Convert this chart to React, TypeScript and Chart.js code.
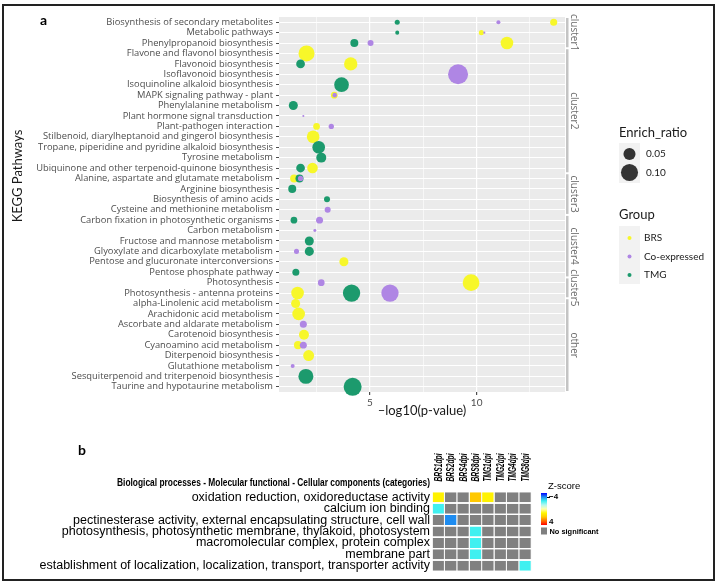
import React, { useEffect, useRef } from 'react';
import { Chart, registerables } from 'chart.js';

Chart.register(...registerables);

// ---------------- Panel a data ----------------
const PATHWAYS = [
  'Biosynthesis of secondary metabolites',
  'Metabolic pathways',
  'Phenylpropanoid biosynthesis',
  'Flavone and flavonol biosynthesis',
  'Flavonoid biosynthesis',
  'Isoflavonoid biosynthesis',
  'Isoquinoline alkaloid biosynthesis',
  'MAPK signaling pathway - plant',
  'Phenylalanine metabolism',
  'Plant hormone signal transduction',
  'Plant-pathogen interaction',
  'Stilbenoid, diarylheptanoid and gingerol biosynthesis',
  'Tropane, piperidine and pyridine alkaloid biosynthesis',
  'Tyrosine metabolism',
  'Ubiquinone and other terpenoid-quinone biosynthesis',
  'Alanine, aspartate and glutamate metabolism',
  'Arginine biosynthesis',
  'Biosynthesis of amino acids',
  'Cysteine and methionine metabolism',
  'Carbon fixation in photosynthetic organisms',
  'Carbon metabolism',
  'Fructose and mannose metabolism',
  'Glyoxylate and dicarboxylate metabolism',
  'Pentose and glucuronate interconversions',
  'Pentose phosphate pathway',
  'Photosynthesis',
  'Photosynthesis - antenna proteins',
  'alpha-Linolenic acid metabolism',
  'Arachidonic acid metabolism',
  'Ascorbate and aldarate metabolism',
  'Carotenoid biosynthesis',
  'Cyanoamino acid metabolism',
  'Diterpenoid biosynthesis',
  'Glutathione metabolism',
  'Sesquiterpenoid and triterpenoid biosynthesis',
  'Taurine and hypotaurine metabolism',
];

const CLUSTERS = ['cluster1', 'cluster2', 'cluster3', 'cluster4', 'cluster5', 'other'];
const CLUSTER_SIZES = [3, 12, 4, 6, 2, 9];

// [pathway, -log10(p-value), Enrich_ratio]
const BRS_POINTS: [string, number, number][] = [
  ['Biosynthesis of secondary metabolites', 13.61, 0.017],
  ['Metabolic pathways', 10.22, 0.0086],
  ['Phenylpropanoid biosynthesis', 11.42, 0.055],
  ['Flavone and flavonol biosynthesis', 2.03, 0.088],
  ['Flavonoid biosynthesis', 4.1, 0.061],
  ['MAPK signaling pathway - plant', 3.33, 0.0154],
  ['Plant-pathogen interaction', 2.5, 0.0154],
  ['Stilbenoid, diarylheptanoid and gingerol biosynthesis', 2.34, 0.055],
  ['Ubiquinone and other terpenoid-quinone biosynthesis', 2.31, 0.039],
  ['Alanine, aspartate and glutamate metabolism', 1.45, 0.022],
  ['Pentose and glucuronate interconversions', 3.78, 0.028],
  ['Photosynthesis', 9.74, 0.096],
  ['Photosynthesis - antenna proteins', 1.61, 0.055],
  ['alpha-Linolenic acid metabolism', 1.52, 0.028],
  ['Arachidonic acid metabolism', 1.66, 0.055],
  ['Carotenoid biosynthesis', 1.91, 0.034],
  ['Cyanoamino acid metabolism', 1.63, 0.022],
  ['Diterpenoid biosynthesis', 2.13, 0.041],
];

const COEXP_POINTS: [string, number, number][] = [
  ['Biosynthesis of secondary metabolites', 11.02, 0.0055],
  ['Metabolic pathways', 10.36, 0.0015],
  ['Phenylpropanoid biosynthesis', 5.03, 0.0123],
  ['Isoflavonoid biosynthesis', 9.13, 0.137],
  ['MAPK signaling pathway - plant', 3.35, 0.007],
  ['Plant hormone signal transduction', 1.88, 0.0015],
  ['Plant-pathogen interaction', 3.19, 0.0096],
  ['Alanine, aspartate and glutamate metabolism', 1.75, 0.0096],
  ['Cysteine and methionine metabolism', 3.02, 0.0123],
  ['Carbon fixation in photosynthetic organisms', 2.64, 0.0168],
  ['Carbon metabolism', 2.42, 0.003],
  ['Glyoxylate and dicarboxylate metabolism', 1.56, 0.0086],
  ['Photosynthesis', 2.72, 0.0154],
  ['Photosynthesis - antenna proteins', 5.94, 0.103],
  ['Ascorbate and aldarate metabolism', 1.88, 0.0168],
  ['Cyanoamino acid metabolism', 1.88, 0.0168],
  ['Glutathione metabolism', 1.38, 0.0055],
];

const TMG_POINTS: [string, number, number][] = [
  ['Biosynthesis of secondary metabolites', 6.28, 0.0086],
  ['Metabolic pathways', 6.28, 0.0055],
  ['Phenylpropanoid biosynthesis', 4.27, 0.022],
  ['Flavonoid biosynthesis', 1.75, 0.026],
  ['Isoquinoline alkaloid biosynthesis', 3.67, 0.074],
  ['Phenylalanine metabolism', 1.41, 0.028],
  ['Tropane, piperidine and pyridine alkaloid biosynthesis', 2.6, 0.055],
  ['Tyrosine metabolism', 2.72, 0.034],
  ['Ubiquinone and other terpenoid-quinone biosynthesis', 1.75, 0.026],
  ['Alanine, aspartate and glutamate metabolism', 1.7, 0.022],
  ['Arginine biosynthesis', 1.36, 0.022],
  ['Biosynthesis of amino acids', 2.99, 0.0123],
  ['Carbon fixation in photosynthetic organisms', 1.44, 0.0154],
  ['Fructose and mannose metabolism', 2.16, 0.028],
  ['Glyoxylate and dicarboxylate metabolism', 2.16, 0.028],
  ['Pentose phosphate pathway', 1.53, 0.0168],
  ['Photosynthesis - antenna proteins', 4.14, 0.103],
  ['Sesquiterpenoid and triterpenoid biosynthesis', 2.0, 0.077],
  ['Taurine and hypotaurine metabolism', 4.19, 0.111],
];

const GROUPS = ['BRS', 'Co-expressed', 'TMG'];
const GROUP_POINTS = [BRS_POINTS, COEXP_POINTS, TMG_POINTS];
const SIZE_BREAKS = [0.05, 0.1];
const X_TICK_LABELS = [5, 10];

// ---------------- Panel b data ----------------
const TIMEPOINTS = ['BRS1dpi', 'BRS2dpi', 'BRS4dpi', 'BRS8dpi', 'TMG1dpi', 'TMG2dpi', 'TMG4dpi', 'TMG8dpi'];
const GO_TERMS = [
  'oxidation reduction, oxidoreductase activity',
  'calcium ion binding',
  'pectinesterase activity, external encapsulating structure, cell wall',
  'photosynthesis, photosynthetic membrane, thylakoid, photosystem',
  'macromolecular complex, protein complex',
  'membrane part',
  'establishment of localization, localization, transport, transporter activity',
];
const Z_BRS1 = [1.1, -2, null, null, null, null, null];
const Z_BRS2 = [null, null, -3, null, null, null, null];
const Z_BRS4 = [null, null, null, null, null, null, null];
const Z_BRS8 = [2, null, null, -2, -2, -2, null];
const Z_TMG1 = [1.1, null, null, null, null, null, null];
const Z_TMG2 = [null, null, null, null, null, null, null];
const Z_TMG4 = [null, null, null, null, null, null, null];
const Z_TMG8 = [null, null, null, null, null, null, -2];
const Z_COLUMNS: (number | null)[][] = [Z_BRS1, Z_BRS2, Z_BRS4, Z_BRS8, Z_TMG1, Z_TMG2, Z_TMG4, Z_TMG8];
const Z_LIMITS = [-4, 4];

// ---------------- styles ----------------
const GROUP_COLORS = ['#F7F72A', '#AF86E4', '#1C9A6D'];
const GROUP_ORDER = [2, 0, 1];
const Z_STOP_VALUES = [-4, -3, -2, -1, 0, 1, 2, 3, 4];
const Z_STOP_COLORS = ['#0000FF', '#1E8CF0', '#40F0F0', '#B4F8F0', '#FFFFB0', '#FFF700', '#FFC800', '#FF6A00', '#FF0000'];
const NS_GRAY = '#808080';
const SANS = 'Lato';
const LABEL_SANS = '"Open Sans"';
const ARIAL = '"Liberation Sans", Arial, sans-serif';

const sizeR = (ratio: number) => 27 * Math.sqrt(ratio);

function hexToRgb(h: string) {
  const n = parseInt(h.slice(1), 16);
  return [(n >> 16) & 255, (n >> 8) & 255, n & 255];
}
function zColor(z: number) {
  const v = Math.max(Z_LIMITS[0], Math.min(Z_LIMITS[1], z));
  for (let i = 0; i < Z_STOP_VALUES.length - 1; i++) {
    if (v <= Z_STOP_VALUES[i + 1]) {
      const t = (v - Z_STOP_VALUES[i]) / (Z_STOP_VALUES[i + 1] - Z_STOP_VALUES[i]);
      const a = hexToRgb(Z_STOP_COLORS[i]);
      const b = hexToRgb(Z_STOP_COLORS[i + 1]);
      const c = a.map((x, k) => Math.round(x + (b[k] - x) * t));
      return `rgb(${c[0]},${c[1]},${c[2]})`;
    }
  }
  return Z_STOP_COLORS[Z_STOP_COLORS.length - 1];
}

function fitSize(text: string, family: string, weight: string, target: number) {
  const c = document.createElement('canvas').getContext('2d')!;
  c.font = `${weight} 100px ${family}`;
  return (100 * target) / c.measureText(text).width;
}

function drawFit(ctx: CanvasRenderingContext2D, text: string, x: number, y: number, font: string, targetW: number, align: CanvasTextAlign, rot = 0) {
  ctx.save();
  ctx.font = font;
  const w = ctx.measureText(text).width;
  ctx.translate(x, y);
  if (rot) ctx.rotate(rot);
  ctx.scale(targetW / w, 1);
  ctx.textAlign = align;
  ctx.textBaseline = 'middle';
  ctx.fillText(text, 0, 0);
  ctx.restore();
}

export default function App() {
  const refA = useRef<HTMLCanvasElement>(null);
  const refB = useRef<HTMLCanvasElement>(null);

  useEffect(() => {
    document.body.style.margin = '0';
    const ySize = fitSize('Ubiquinone and other terpenoid-quinone biosynthesis', LABEL_SANS, 'normal', 237);
    const goSize = fitSize('establishment of localization, localization, transport, transporter activity', ARIAL, 'normal', 391);

    const panelA = {
      id: 'panelA',
      beforeDraw(chart: any) {
        const { ctx, chartArea: a } = chart;
        ctx.save();
        ctx.fillStyle = '#ffffff';
        ctx.fillRect(0, 0, chart.width, chart.height);
        ctx.fillStyle = '#EBEBEB';
        ctx.fillRect(a.left, a.top, a.right - a.left, a.bottom - a.top);
        ctx.restore();
      },
      afterDraw(chart: any) {
        const { ctx, chartArea: a } = chart;
        const ys = chart.scales.y;
        const pitch = Math.abs(ys.getPixelForValue(1) - ys.getPixelForValue(0));
        ctx.save();
        // facet strips
        let start = 0;
        CLUSTERS.forEach((name, k) => {
          const end = start + CLUSTER_SIZES[k] - 1;
          const top = ys.getPixelForValue(start) - pitch / 2 + 1;
          const bot = ys.getPixelForValue(end) + pitch / 2 - 1;
          ctx.fillStyle = '#C4C4C4';
          ctx.fillRect(a.right + 1, top, 2.5, bot - top);
          ctx.save();
          ctx.translate(a.right + 8.5, (top + bot) / 2);
          ctx.rotate(Math.PI / 2);
          ctx.fillStyle = '#6b6b6b';
          ctx.font = `10px ${LABEL_SANS}`;
          ctx.textAlign = 'center';
          ctx.textBaseline = 'middle';
          ctx.fillText(name, 0, 0);
          ctx.restore();
          start = end + 1;
        });

        // axis titles
        ctx.fillStyle = '#1a1a1a';
        ctx.font = `13px ${SANS}`;
        ctx.textAlign = 'center';
        ctx.textBaseline = 'middle';
        ctx.fillText('\u2013log10(p-value)', (a.left + a.right) / 2, 411);
        ctx.save();
        ctx.translate(18, 176);
        ctx.rotate(-Math.PI / 2);
        ctx.fillText('KEGG Pathways', 0, 0);
        ctx.restore();

        // legend: Enrich_ratio
        ctx.textAlign = 'left';
        ctx.font = `13px ${SANS}`;
        ctx.fillText('Enrich_ratio', 619, 133);
        ctx.fillStyle = '#F2F2F2';
        ctx.fillRect(619, 143, 21, 40);
        const sizeY = [154, 172.5];
        SIZE_BREAKS.forEach((v, i) => {
          ctx.fillStyle = '#333333';
          ctx.beginPath();
          ctx.arc(629.5, sizeY[i], sizeR(v), 0, Math.PI * 2);
          ctx.fill();
          ctx.fillStyle = '#1a1a1a';
          ctx.font = `10px ${SANS}`;
          ctx.fillText(v.toFixed(2), 646, sizeY[i]);
        });

        // legend: Group
        ctx.font = `13px ${SANS}`;
        ctx.fillStyle = '#1a1a1a';
        ctx.fillText('Group', 619, 215);
        ctx.fillStyle = '#F2F2F2';
        ctx.fillRect(619, 226, 21, 58);
        GROUPS.forEach((g, i) => {
          const y = 238 + i * 18.5;
          ctx.fillStyle = GROUP_COLORS[i];
          ctx.beginPath();
          ctx.arc(629.5, y, 2, 0, Math.PI * 2);
          ctx.fill();
          ctx.fillStyle = '#1a1a1a';
          ctx.font = `10px ${SANS}`;
          ctx.fillText(g, 644, y);
        });

        // panel letters
        ctx.font = `bold 14px ${SANS}`;
        ctx.fillStyle = '#000';
        ctx.fillText('a', 40, 20);
        ctx.fillText('b', 78, 450);

        // frame
        ctx.strokeStyle = '#222';
        ctx.lineWidth = 2;
        ctx.strokeRect(3, 5, 711, 575);
        ctx.restore();
      },
    };

    const chartA = new Chart(refA.current!, {
      type: 'bubble',
      data: {
        datasets: GROUPS.map((g, gi) => ({
          label: g,
          data: GROUP_POINTS[gi].map(([p, x, ratio]) => ({ x, y: p as any, r: sizeR(ratio) })),
          backgroundColor: GROUP_COLORS[gi],
          borderWidth: 0,
          order: GROUP_ORDER[gi],
        })),
      },
      options: {
        responsive: false,
        animation: false,
        layout: { padding: { top: 17, right: 153, left: 0, bottom: 0 } },
        plugins: { legend: { display: false }, tooltip: { enabled: false } },
        scales: {
          x: {
            type: 'linear',
            min: 0.74,
            max: 14.14,
            afterFit: (s: any) => { s.height = 194; },
            ticks: {
              stepSize: 2.5,
              includeBounds: false,
              autoSkip: false,
              maxRotation: 0,
              padding: 2,
              color: '#4d4d4d',
              font: { family: SANS, size: 10 },
              callback: (v: any) => (X_TICK_LABELS.includes(Number(v)) ? String(v) : ''),
            },
            grid: {
              color: '#ffffff',
              lineWidth: (c: any) => (c.tick && X_TICK_LABELS.includes(c.tick.value) ? 1.2 : 0.6),
              tickLength: 3,
              tickColor: (c: any) => (c.tick && X_TICK_LABELS.includes(c.tick.value) ? '#4d4d4d' : 'rgba(0,0,0,0)'),
            },
            border: { display: false },
          },
          y: {
            type: 'category',
            labels: PATHWAYS,
            offset: true,
            afterFit: (s: any) => { s.width = 279; },
            ticks: {
              autoSkip: false,
              padding: 3,
              color: '#4d4d4d',
              font: { family: 'Open Sans', size: ySize },
            },
            grid: { color: '#ffffff', lineWidth: 1, offset: false, tickLength: 3, tickColor: '#4d4d4d' },
            border: { display: false },
          },
        },
      },
      plugins: [panelA],
    } as any);

    const panelB = {
      id: 'panelB',
      afterDraw(chart: any) {
        const { ctx, chartArea: a } = chart;
        const xs = chart.scales.x;
        ctx.save();
        ctx.fillStyle = '#000';
        // column headers
        TIMEPOINTS.forEach((t, j) => {
          drawFit(ctx, t, xs.getPixelForValue(j + 0.5), a.top - 10, `italic bold 11px ${ARIAL}`, 28, 'left', -Math.PI / 2);
        });
        // title
        drawFit(ctx, 'Biological processes - Molecular functional - Cellular components (categories)', a.left - 2.5, 483.5, `bold 10px ${ARIAL}`, 313, 'right');
        // Z-score legend
        ctx.font = `9.5px ${ARIAL}`;
        ctx.textAlign = 'left';
        ctx.textBaseline = 'middle';
        ctx.fillText('Z-score', 548, 486.5);
        const cbTop = 493, cbBot = 525, cbX = 541, cbW = 6;
        const grad = ctx.createLinearGradient(0, cbTop, 0, cbBot);
        Z_STOP_VALUES.forEach((v, i) => {
          grad.addColorStop((v - Z_LIMITS[0]) / (Z_LIMITS[1] - Z_LIMITS[0]), Z_STOP_COLORS[i]);
        });
        ctx.fillStyle = grad;
        ctx.fillRect(cbX, cbTop, cbW, cbBot - cbTop);
        ctx.strokeStyle = '#000';
        ctx.lineWidth = 1;
        ctx.beginPath();
        ctx.moveTo(cbX + cbW, 497.5);
        ctx.lineTo(cbX + cbW + 3, 497.5);
        ctx.stroke();
        ctx.fillStyle = '#000';
        ctx.font = `bold 8px ${ARIAL}`;
        ctx.fillText('\u22124', cbX + cbW + 2, 497);
        ctx.fillText('4', cbX + cbW + 2, 522);
        ctx.fillStyle = NS_GRAY;
        ctx.fillRect(cbX, 527.5, cbW, 7);
        ctx.fillStyle = '#000';
        drawFit(ctx, 'No significant', cbX + cbW + 2.5, 531.5, `bold 8px ${ARIAL}`, 49, 'left');
        ctx.restore();
      },
    };

    const chartB = new Chart(refB.current!, {
      type: 'bar',
      data: {
        labels: GO_TERMS,
        datasets: TIMEPOINTS.map((t, j) => ({
          label: t,
          data: GO_TERMS.map(() => [j, j + 1]),
          backgroundColor: Z_COLUMNS[j].map((z) => (z == null ? NS_GRAY : zColor(z))),
          borderColor: '#f4f4f4',
          borderWidth: { left: 0, top: 0, bottom: 0, right: 1 },
          borderSkipped: false,
          barPercentage: 0.875,
          categoryPercentage: 1,
          grouped: false,
        })),
      },
      options: {
        indexAxis: 'y',
        responsive: false,
        animation: false,
        layout: { padding: { top: 491.5, right: 186.3, bottom: 14.5, left: 0 } },
        plugins: { legend: { display: false }, tooltip: { enabled: false } },
        scales: {
          x: { type: 'linear', min: 0, max: TIMEPOINTS.length, display: false },
          y: {
            type: 'category',
            afterFit: (s: any) => { s.width = 432.5; },
            ticks: { autoSkip: false, padding: 2.5, color: '#000', font: { family: ARIAL, size: goSize } },
            grid: { display: false, drawTicks: false },
            border: { display: false },
          },
        },
      },
      plugins: [panelB],
    } as any);

    return () => {
      chartA.destroy();
      chartB.destroy();
    };
  }, []);

  return (
    <div style={{ position: 'relative', width: 718, height: 586 }}>
      <canvas ref={refA} width={718} height={586} style={{ position: 'absolute', left: 0, top: 0 }} />
      <canvas ref={refB} width={718} height={586} style={{ position: 'absolute', left: 0, top: 0 }} />
    </div>
  );
}
